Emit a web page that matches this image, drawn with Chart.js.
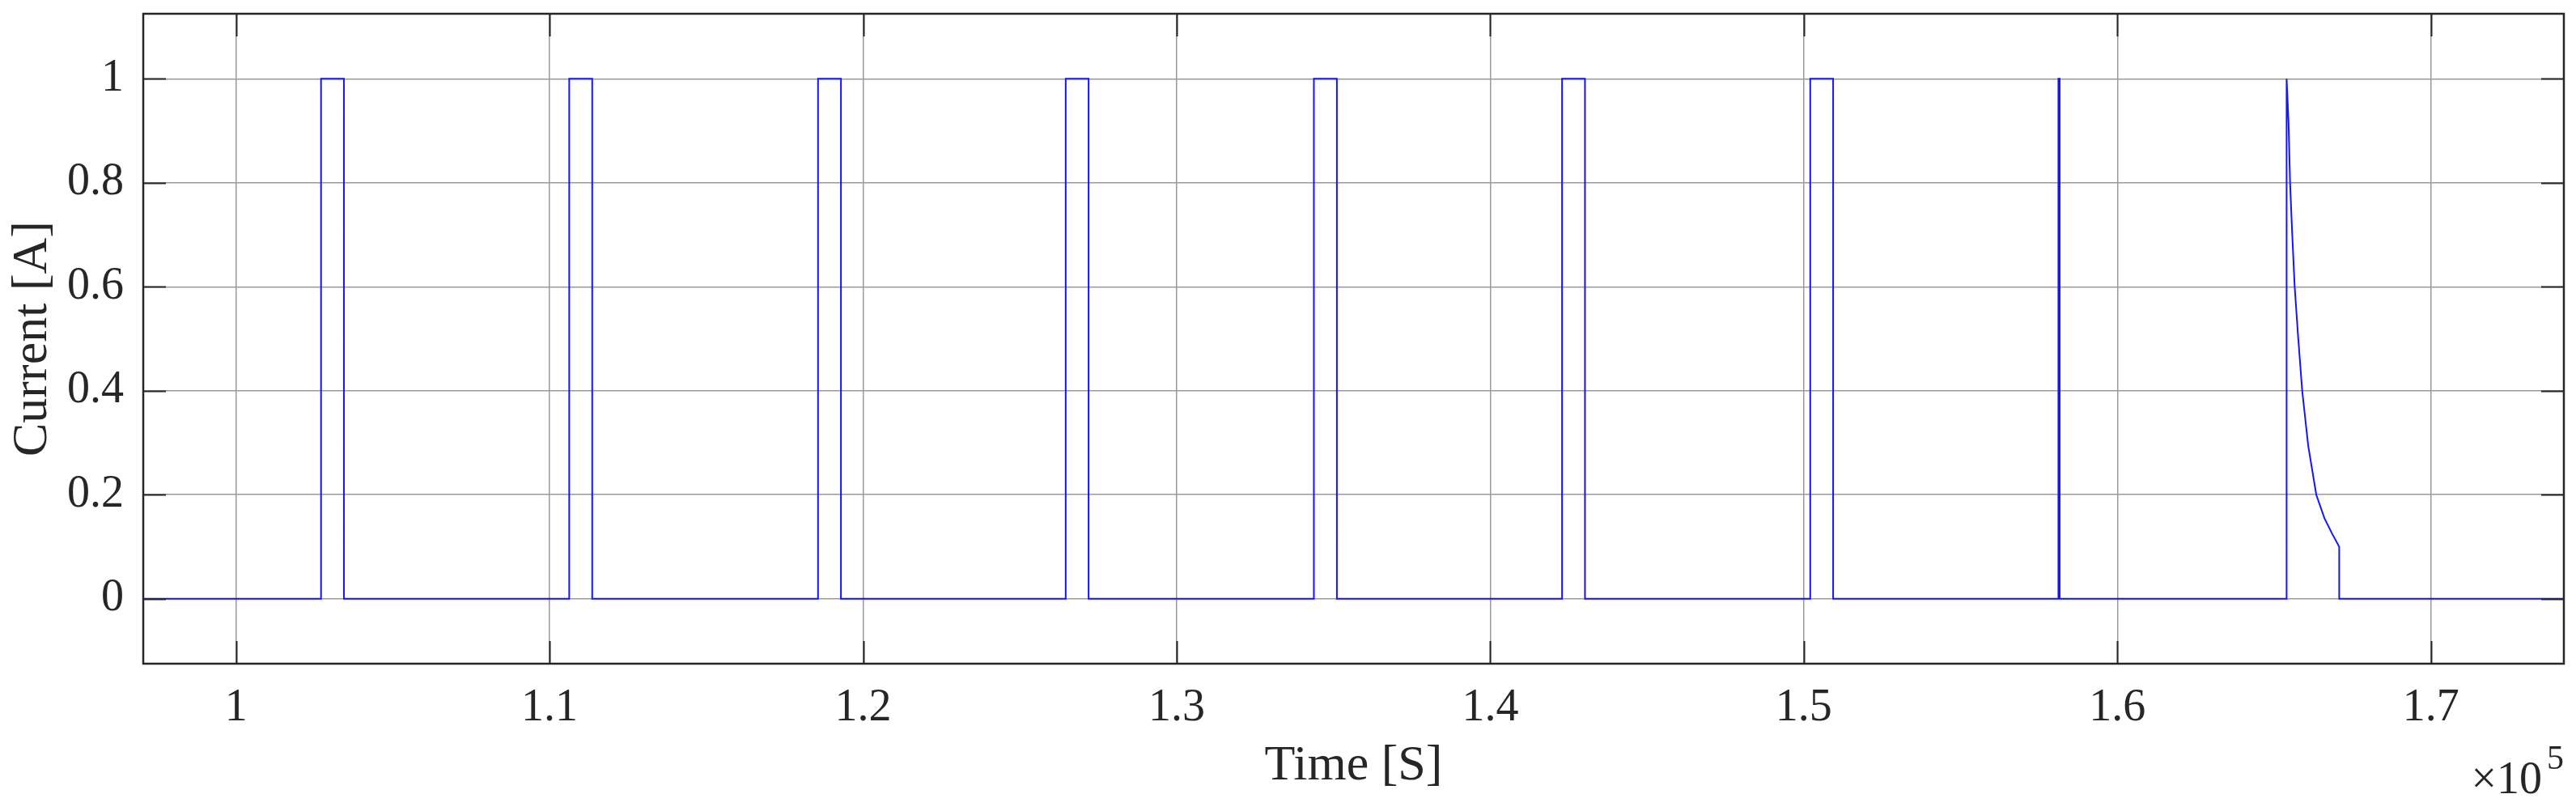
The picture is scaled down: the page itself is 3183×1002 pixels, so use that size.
<!DOCTYPE html>
<html>
<head>
<meta charset="utf-8">
<script src="https://cdn.jsdelivr.net/npm/chart.js@4.4.1/dist/chart.umd.min.js"></script>
<style>
  html, body { margin: 0; padding: 0; background: #fff; }
  canvas { display: block; }
</style>
</head>
<body>
<canvas id="chart" width="3183" height="1002"></canvas>
<script>
// Pulse train (time in seconds, current in amps)
const timeS = [
  97040,
  102710, 102710, 103440, 103440,
  110626, 110626, 111359, 111359,
  118561, 118561, 119292, 119292,
  126460, 126460, 127190, 127190,
  134375, 134375, 135108, 135108,
  142290, 142290, 143020, 143020,
  150205, 150205, 150935, 150935,
  158120, 158120, 158160, 158160,
  165398, 165398,
  165458, 165508, 165570, 165655, 165767, 165895, 166087, 166344, 166603, 166850,
  167075, 167075,
  174240,
];
const currentA = [
  0,
  0, 1, 1, 0,
  0, 1, 1, 0,
  0, 1, 1, 0,
  0, 1, 1, 0,
  0, 1, 1, 0,
  0, 1, 1, 0,
  0, 1, 1, 0,
  0, 1, 1, 0,
  0, 1,
  0.918, 0.8, 0.71, 0.6, 0.502, 0.4, 0.294, 0.2, 0.155, 0.125,
  0.1, 0,
  0,
];

const xTicks = [100000, 110000, 120000, 130000, 140000, 150000, 160000, 170000];
const xTickLabels = ["1", "1.1", "1.2", "1.3", "1.4", "1.5", "1.6", "1.7"];
const yTicks = [0, 0.2, 0.4, 0.6, 0.8, 1];
const yTickLabels = ["0", "0.2", "0.4", "0.6", "0.8", "1"];

const X_RANGE = [97040, 174240];
const Y_RANGE = [-0.125, 1.125];

const FONT = "'Liberation Serif', 'Times New Roman', serif";
const INK = "#262626";
const GRID = "#999999";

// Box, inner tick marks and the x10^5 exponent label
const boxPlugin = {
  id: "box",
  afterDraw(chart) {
    const { ctx, chartArea: a, scales } = chart;
    const len = 28;
    ctx.save();
    ctx.strokeStyle = INK;
    ctx.lineWidth = 2;
    ctx.beginPath();
    for (const v of xTicks) {
      const px = Math.round(scales.x.getPixelForValue(v)) + 0.5;
      ctx.moveTo(px, a.bottom); ctx.lineTo(px, a.bottom - len);
      ctx.moveTo(px, a.top); ctx.lineTo(px, a.top + len);
    }
    for (const v of yTicks) {
      const py = Math.round(scales.y.getPixelForValue(v)) + 0.5;
      ctx.moveTo(a.left, py); ctx.lineTo(a.left + len, py);
      ctx.moveTo(a.right, py); ctx.lineTo(a.right - len, py);
    }
    ctx.stroke();
    ctx.lineWidth = 2.5;
    ctx.strokeRect(a.left, a.top, a.right - a.left, a.bottom - a.top);

    // exponent label
    ctx.fillStyle = INK;
    ctx.textBaseline = "alphabetic";
    ctx.textAlign = "right";
    ctx.font = `42px ${FONT}`;
    ctx.fillText("5", a.right, a.bottom + 130);
    const w5 = ctx.measureText("5").width;
    ctx.font = `56px ${FONT}`;
    ctx.fillText("\u00d710", a.right - w5 - 6, a.bottom + 160);
    ctx.restore();
  },
};

const points = timeS.map((t, i) => ({ x: t, y: currentA[i] }));

function pinRange(range) {
  return (s) => { s.min = range[0]; s.max = range[1]; };
}

// drop the label-overhang padding Chart.js adds, so the plot box sits where we want it
function noOverhang(s) {
  s.paddingTop = 0; s.paddingBottom = 0; s.paddingLeft = 0; s.paddingRight = 0;
}

new Chart(document.getElementById("chart"), {
  type: "line",
  data: {
    datasets: [{
      data: points,
      borderColor: "#1414ff",
      borderWidth: 2,
      pointRadius: 0,
      tension: 0,
      fill: false,
    }],
  },
  options: {
    responsive: false,
    animation: false,
    devicePixelRatio: 1,
    layout: { padding: { top: 17, right: 15, left: 0, bottom: 0 } },
    plugins: { legend: { display: false }, tooltip: { enabled: false } },
    scales: {
      x: {
        type: "linear",
        bounds: "data",
        min: X_RANGE[0],
        max: X_RANGE[1],
        afterBuildTicks: (s) => {
          s.ticks = xTicks.map((v) => ({ value: v }));
          pinRange(X_RANGE)(s);
        },
        afterFit: (s) => { s.height = 182; noOverhang(s); },
        grid: { color: GRID, lineWidth: 1.5, drawTicks: false },
        border: { display: false },
        ticks: {
          padding: 22,
          color: INK,
          font: { family: FONT, size: 56 },
          maxRotation: 0,
          autoSkip: false,
          callback: (v) => xTickLabels[xTicks.indexOf(v)] ?? "",
        },
        title: {
          display: true,
          text: "Time [S]",
          color: INK,
          font: { family: FONT, size: 62 },
          padding: { top: 0, bottom: 18 },
        },
      },
      y: {
        bounds: "data",
        min: Y_RANGE[0],
        max: Y_RANGE[1],
        afterBuildTicks: (s) => {
          s.ticks = yTicks.map((v) => ({ value: v }));
          pinRange(Y_RANGE)(s);
        },
        afterFit: (s) => { s.width = 177; noOverhang(s); },
        grid: { color: GRID, lineWidth: 1.5, drawTicks: false },
        border: { display: false },
        ticks: {
          padding: 24,
          color: INK,
          font: { family: FONT, size: 56 },
          autoSkip: false,
          callback: (v) => yTickLabels[yTicks.indexOf(v)] ?? "",
        },
        title: {
          display: true,
          text: "Current [A]",
          color: INK,
          font: { family: FONT, size: 62 },
          padding: { top: 4, bottom: 0 },
        },
      },
    },
  },
  plugins: [boxPlugin],
});
</script>
</body>
</html>
